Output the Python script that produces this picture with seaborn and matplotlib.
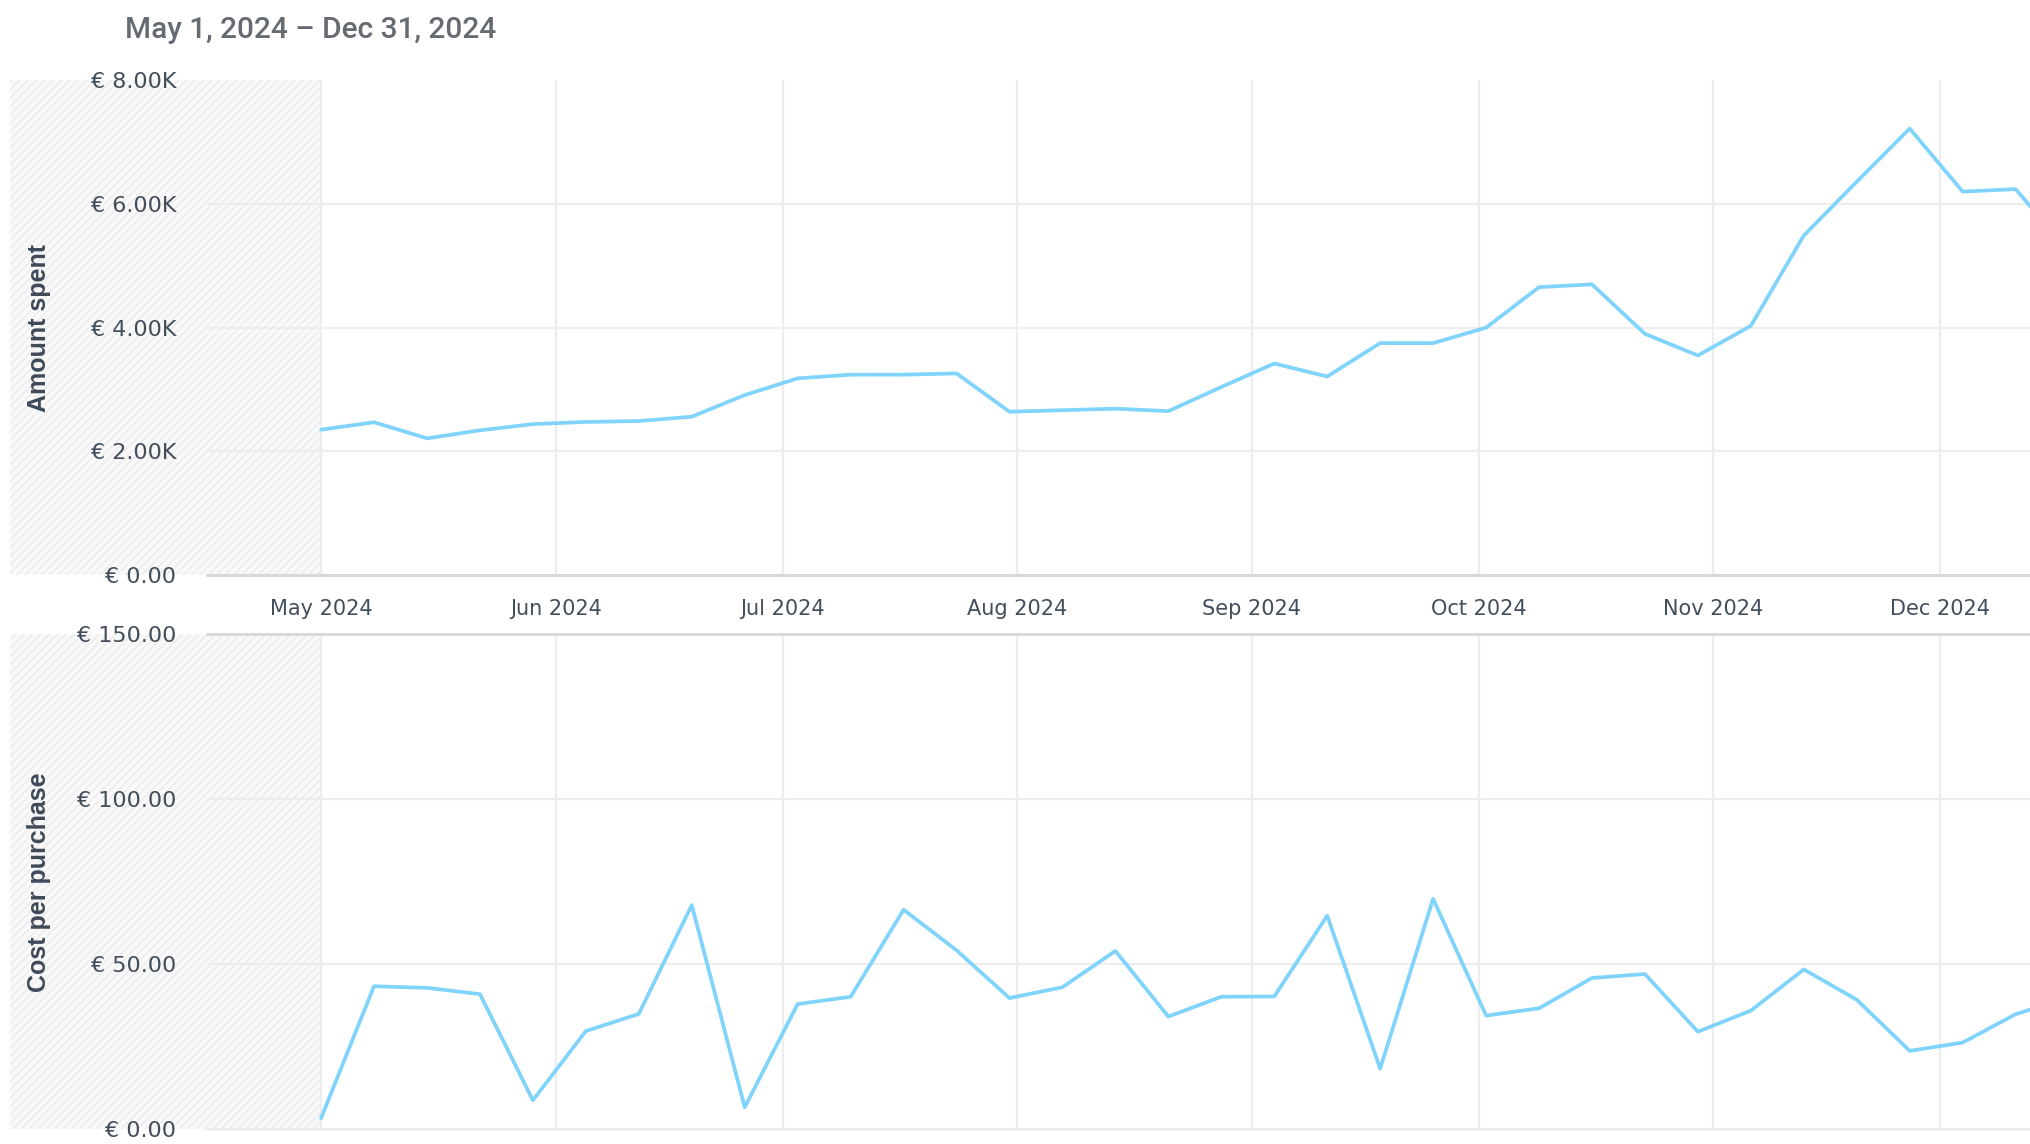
import matplotlib
matplotlib.use("Agg")
import matplotlib.pyplot as plt
import matplotlib.dates as mdates
from matplotlib.patches import Rectangle
from matplotlib.ticker import FuncFormatter, FixedLocator
import seaborn as sns
import pandas as pd

# ---------------- data ----------------
title_text = "May 1, 2024 \u2013 Dec 31, 2024"
week_start = "2024-05-01"
n_weeks = 34
amount_spent = [2350, 2470, 2210, 2340, 2440, 2475, 2490, 2560, 2910, 3180,
                3240, 3240, 3260, 2640, 2665, 2690, 2650, 3040, 3420, 3210,
                3750, 3750, 4000, 4655, 4700, 3900, 3550, 4030, 5490, 6360,
                7220, 6200, 6240, 5240]
cost_per_purchase = [3.3, 43.3, 42.8, 40.9, 8.7, 29.7, 34.9, 67.9, 6.6, 37.9,
                     40.1, 66.5, 54.2, 39.7, 43.0, 54.0, 34.1, 40.1, 40.2, 64.7,
                     18.3, 69.8, 34.4, 36.6, 45.8, 47.0, 29.5, 35.9, 48.4, 39.2,
                     23.7, 26.2, 34.8, 40.0]
top_yticks = [0, 2000, 4000, 6000, 8000]
bottom_yticks = [0, 50, 100, 150]
month_ticks = ["2024-05-01", "2024-06-01", "2024-07-01", "2024-08-01",
               "2024-09-01", "2024-10-01", "2024-11-01", "2024-12-01"]
y_label_top = "Amount spent"
y_label_bottom = "Cost per purchase"

dates = pd.date_range(week_start, periods=n_weeks, freq="7D")
df = pd.DataFrame({"date": dates, "spent": amount_spent, "cpp": cost_per_purchase})

# ---------------- style ----------------
sns.set_theme(style="white")
plt.rcParams["font.family"] = ["DejaVu Sans"]
plt.rcParams["hatch.linewidth"] = 1.0

W, H = 2030, 1144
fig = plt.figure(figsize=(W / 100, H / 100), dpi=100)
fig.patch.set_facecolor("white")

tick_color = "#434e5c"
grid_color = "#ededed"
axis_color = "#d9d9d9"
line_color = "#80d4fb"
hatch_face = "#f9f9f9"
hatch_edge = "#ebebeb"

left_px, right_px = 207, 2030
top_ax = fig.add_axes([left_px / W, 1 - 575 / H, (right_px - left_px) / W, (575 - 80.3) / H])
bot_ax = fig.add_axes([left_px / W, 1 - 1129 / H, (right_px - left_px) / W, (1129 - 634.4) / H])

start = pd.Timestamp(week_start)
xmin = start - pd.Timedelta(days=15.08)
xmax = start + pd.Timedelta(days=225.9)
month_dates = pd.to_datetime(month_ticks)

def style_axis(ax, yticks, fmt, ylabel, show_x):
    ax.set_facecolor("none")
    ax.set_xlim(xmin, xmax)
    ax.set_ylim(yticks[0], yticks[-1])
    for s in ax.spines.values():
        s.set_visible(False)
    # in-axes hatched "before range" area
    ax.axvspan(xmin, start, facecolor=hatch_face, edgecolor=hatch_edge,
               hatch="////", linewidth=0, zorder=0)
    for d in month_dates:
        ax.axvline(d, color=grid_color, lw=1.6, zorder=1)
    for v in yticks[1:-1]:
        ax.axhline(v, color=grid_color, lw=1.6, zorder=1)
    ax.yaxis.set_major_locator(FixedLocator(yticks))
    ax.yaxis.set_major_formatter(FuncFormatter(fmt))
    ax.set_xticks(month_dates)
    if show_x:
        ax.xaxis.set_major_formatter(mdates.DateFormatter("%b %Y"))
    else:
        ax.set_xticklabels([])
    ax.tick_params(axis="y", length=0, pad=22, labelsize=16, labelcolor=tick_color)
    ax.tick_params(axis="x", length=0, pad=17, labelsize=15, labelcolor=tick_color)
    ax.set_xlabel("")
    ax.set_ylabel(ylabel, fontsize=18, fontweight="bold", color="#3f4a59",
                  family=["Liberation Sans", "DejaVu Sans"], va="center")
    ax.yaxis.set_label_coords((39 - left_px) / (right_px - left_px), 0.5)

def fmt_top(v, pos):
    return "\u20ac 0.00" if v == 0 else f"\u20ac {v / 1000:.2f}K"

def fmt_bot(v, pos):
    return f"\u20ac {v:.2f}"

sns.lineplot(data=df, x="date", y="spent", ax=top_ax, color=line_color, lw=2.7, zorder=3)
sns.lineplot(data=df, x="date", y="cpp", ax=bot_ax, color=line_color, lw=2.7, zorder=3)

style_axis(top_ax, top_yticks, fmt_top, y_label_top, True)
style_axis(bot_ax, bottom_yticks, fmt_bot, y_label_bottom, False)

# axis lines
top_ax.axhline(0, color=axis_color, lw=2.2, zorder=2, clip_on=False)
bot_ax.axhline(bottom_yticks[-1], color=axis_color, lw=2.2, zorder=2, clip_on=False)
bot_ax.axhline(0, color=grid_color, lw=2.0, zorder=2, clip_on=False)

# hatched area continuing to the left of the plotting region (behind tick labels)
for ax in (top_ax, bot_ax):
    pos = ax.get_position()
    r = Rectangle((10 / W, pos.y0), pos.x0 - 10 / W, pos.height, transform=fig.transFigure,
                  facecolor=hatch_face, edgecolor=hatch_edge, hatch="////", linewidth=0, zorder=-1)
    fig.patches.append(r)

fig.text(125 / W, 1 - 30 / H, title_text, ha="left", va="center", fontsize=21.5,
         color="#666b72", family=["Roboto", "DejaVu Sans"], fontweight="medium")

fig.savefig("out.png", dpi=100, facecolor="white")
